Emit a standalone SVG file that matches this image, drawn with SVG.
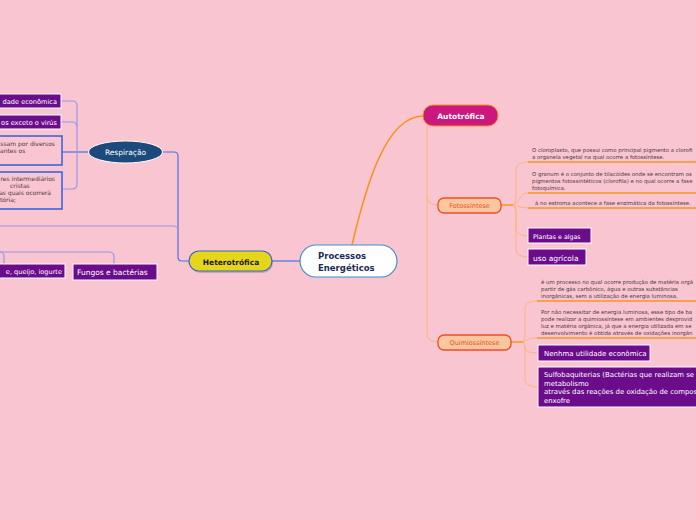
<svg xmlns="http://www.w3.org/2000/svg" width="696" height="520" viewBox="0 0 696 520">
<defs>
<style>
text{font-family:"DejaVu Sans","Liberation Sans",sans-serif}
.pbox{fill:#6b0d8a;stroke:#ffffff;stroke-width:1}
.pt{fill:#ffffff}
.bbox{fill:#f9c5d1;stroke:#2f5ee0;stroke-width:1.5}
.small{font-size:5.4px;fill:#4a3a40}
.ls{font-size:6px;fill:#4a3a40}
.lb{fill:none;stroke:#4d6fe6;stroke-width:1.2}
.ll{fill:none;stroke:#9a96ec;stroke-width:1.2}
.lo{fill:none;stroke:#f7941d;stroke-width:1.5}
.llo{fill:none;stroke:#fbb57a;stroke-width:1}
.ul{fill:none;stroke:#f7941d;stroke-width:1.6}
.sub{fill:#f8c7a0;stroke:#f04e23;stroke-width:1.3}
.subt{font-size:6.5px;fill:#f04e23}
</style>
</defs>
<rect width="696" height="520" fill="#f9c5d1"/>
<g id="connectors">
  <path class="lo" d="M352,245 C365,190 385,116 423,116"/>
  <path class="llo" d="M423,118 C428,120 427,124 427,130 L427,196 Q427,205 438,205"/>
  <path class="llo" d="M427,196 L427,334 Q427,342 438,342"/>
  <path class="lo" d="M501,205 L513,205"/>
  <path class="llo" d="M513,205 Q516,204 516,195 L516,170 Q516,162 528,162"/>
  <path class="llo" d="M513,205 Q518,203 520,198 Q522,193 528,193"/>
  <path class="llo" d="M513,205 Q522,208 528,208"/>
  <path class="llo" d="M513,205 Q516,206 516,215 L516,228 Q516,236 528,236"/>
  <path class="llo" d="M513,205 Q516,206 516,215 L516,249 Q516,257 528,257"/>
  <path class="ul" d="M528,162 L696,162"/>
  <path class="ul" d="M528,193 L696,193"/>
  <path class="ul" d="M528,208 L696,208"/>
  <path class="lo" d="M511,342 L523,342"/>
  <path class="llo" d="M523,342 Q525,341 525,332 L525,309 Q525,301 537,301"/>
  <path class="llo" d="M523,342 Q527,340 529,339 Q531,338 537,338"/>
  <path class="llo" d="M523,342 Q525,343 525,348 Q525,353 538,353"/>
  <path class="llo" d="M523,342 Q525,343 525,352 L525,379 Q525,387 538,387"/>
  <path class="ul" d="M537,301 L696,301"/>
  <path class="ul" d="M537,338 L696,338"/>
  <path class="lb" d="M300,261 L272,261"/>
  <path class="lb" d="M189,261 L182,261 Q178,261 178,257 L178,156 Q178,152 174,152 L163,152"/>
  <path class="ll" d="M178,231 Q178,226 173,226 L0,226"/>
  <path class="ll" d="M0,252 L109,252 Q114,252 114,257 L114,264"/>
  <path class="ll" d="M0,252 Q4,252 4,257 L4,264"/>
  <path class="lb" d="M88,152 L62,152"/>
  <path class="ll" d="M77,152 L77,106 Q77,101 72,101 L61,101"/>
  <path class="ll" d="M77,127 Q77,122 72,122 L61,122"/>
  <path class="ll" d="M77,152 L77,184 Q77,189 72,189 L62,189"/>
</g>
<g id="center">
  <rect x="300" y="245" width="97" height="32" rx="16" fill="#ffffff" stroke="#3f8fd0" stroke-width="1.2"/>
  <text x="318" y="259" font-size="8.5" font-weight="bold" fill="#1a2a5a">Processos</text>
  <text x="318" y="271" font-size="8.5" font-weight="bold" fill="#1a2a5a">Energéticos</text>
</g>
<g id="heterotrofica">
  <rect x="190" y="253" width="83" height="20" rx="10" fill="#8a8aa0" opacity="0.5"/>
  <rect x="189" y="251" width="83" height="20" rx="10" fill="#e5d61b" stroke="#3c64c8" stroke-width="1.2"/>
  <text x="231" y="264.5" font-size="7.5" font-weight="bold" fill="#1a1a1a" text-anchor="middle">Heterotrófica</text>
</g>
<g id="autotrofica">
  <rect x="423" y="105" width="75" height="21" rx="10" fill="#cc177f" stroke="#f7941d" stroke-width="1"/>
  <text x="461" y="118.5" font-size="7.5" font-weight="bold" fill="#ffffff" text-anchor="middle">Autotrófica</text>
</g>
<g id="fotossintese">
  <rect x="438" y="198" width="63" height="15" rx="6" class="sub"/>
  <text x="469.5" y="208" class="subt" text-anchor="middle">Fotossíntese</text>
</g>
<g id="foto-t1">
  <text x="532" y="152" class="small">O cloroplasto, que possui como principal pigmento a clorofi</text>
  <text x="532" y="159" class="small">a organela vegetal na qual ocorre a fotossíntese.</text>
</g>
<g id="foto-t2">
  <text x="532" y="176" class="small">O granum é o conjunto de tilacóides onde se encontram os</text>
  <text x="532" y="183" class="small">pigmentos fotossintéticos (clorofila) e no qual ocorre a fase</text>
  <text x="532" y="190" class="small">fotoquímica.</text>
</g>
<g id="foto-t3">
  <text x="535" y="204.5" class="small">á no estroma acontece a fase enzimática da fotossíntese.</text>
</g>
<g id="plantas">
  <rect x="528" y="228" width="63" height="15" class="pbox"/>
  <text x="533" y="238.5" font-size="6.3" class="pt">Plantas e algas</text>
</g>
<g id="uso">
  <rect x="528" y="249" width="58" height="16" class="pbox"/>
  <text x="533" y="260.5" font-size="7.5" class="pt">uso agrícola</text>
</g>
<g id="quimiossintese">
  <rect x="438" y="335" width="73" height="15" rx="6" class="sub"/>
  <text x="474.5" y="345" class="subt" text-anchor="middle">Quimiossíntese</text>
</g>
<g id="quimio-t1">
  <text x="541" y="284" class="small">é um processo no qual ocorre produção de matéria orgâ</text>
  <text x="541" y="291" class="small">partir de gás carbônico, água e outras substâncias</text>
  <text x="541" y="297.5" class="small">inorgânicas, sem a utilização de energia luminosa.</text>
</g>
<g id="quimio-t2">
  <text x="541" y="314" class="small">Por não necessitar de energia luminosa, esse tipo de ba</text>
  <text x="541" y="321" class="small">pode realizar a quimiossíntese em ambientes desprovid</text>
  <text x="541" y="328" class="small">luz e matéria orgânica, já que a energia utilizada em se</text>
  <text x="541" y="334.5" class="small">desenvolvimento é obtida através de oxidações inorgân</text>
</g>
<g id="nenhma">
  <rect x="538" y="345" width="112" height="16" class="pbox"/>
  <text x="544" y="356" font-size="7" class="pt">Nenhma utilidade econômica</text>
</g>
<g id="sulfo">
  <rect x="538" y="367" width="162" height="40" class="pbox"/>
  <text x="544" y="377" font-size="6.9" class="pt">Sulfobaquiterias (Bactérias que realizam se</text>
  <text x="544" y="385.5" font-size="6.9" class="pt">metabolismo</text>
  <text x="544" y="394" font-size="6.9" class="pt">através das reações de oxidação de compos</text>
  <text x="544" y="402.5" font-size="6.9" class="pt">enxofre</text>
</g>
<g id="respiracao">
  <ellipse cx="125.5" cy="152" rx="37" ry="11" fill="#1d4a7c" stroke="#ffffff" stroke-width="1"/>
  <text x="125.5" y="155" font-size="7.5" fill="#ffffff" text-anchor="middle">Respiração</text>
</g>
<g id="resp-c1">
  <rect x="-5" y="94" width="66" height="14" class="pbox"/>
  <text x="57" y="103.5" font-size="6.6" class="pt" text-anchor="end">dade econômica</text>
</g>
<g id="resp-c2">
  <rect x="-5" y="115" width="66" height="14" class="pbox"/>
  <text x="57" y="124.5" font-size="6.6" class="pt" text-anchor="end">os exceto o virús</text>
</g>
<g id="resp-c3">
  <rect x="-5" y="136" width="67" height="29" class="bbox"/>
  <text x="55" y="146" class="ls" text-anchor="end">ssam por diversos</text>
  <text x="0" y="153" class="ls">antes os</text>
</g>
<g id="resp-c4">
  <rect x="-5" y="172" width="67" height="37" class="bbox"/>
  <text x="55" y="181" class="ls" text-anchor="end">res intermediários</text>
  <text x="10" y="188" class="ls">cristas</text>
  <text x="51" y="195" class="ls" text-anchor="end">as quais ocorrerá</text>
  <text x="0" y="202" class="ls">tória;</text>
</g>
<g id="leite">
  <rect x="-5" y="264" width="70" height="14" class="pbox"/>
  <text x="62" y="273.5" font-size="6.6" class="pt" text-anchor="end">e, queijo, iogurte</text>
</g>
<g id="fungos">
  <rect x="73" y="264" width="84" height="16" class="pbox"/>
  <text x="77" y="275" font-size="7.5" class="pt">Fungos e bactérias</text>
</g>
</svg>
